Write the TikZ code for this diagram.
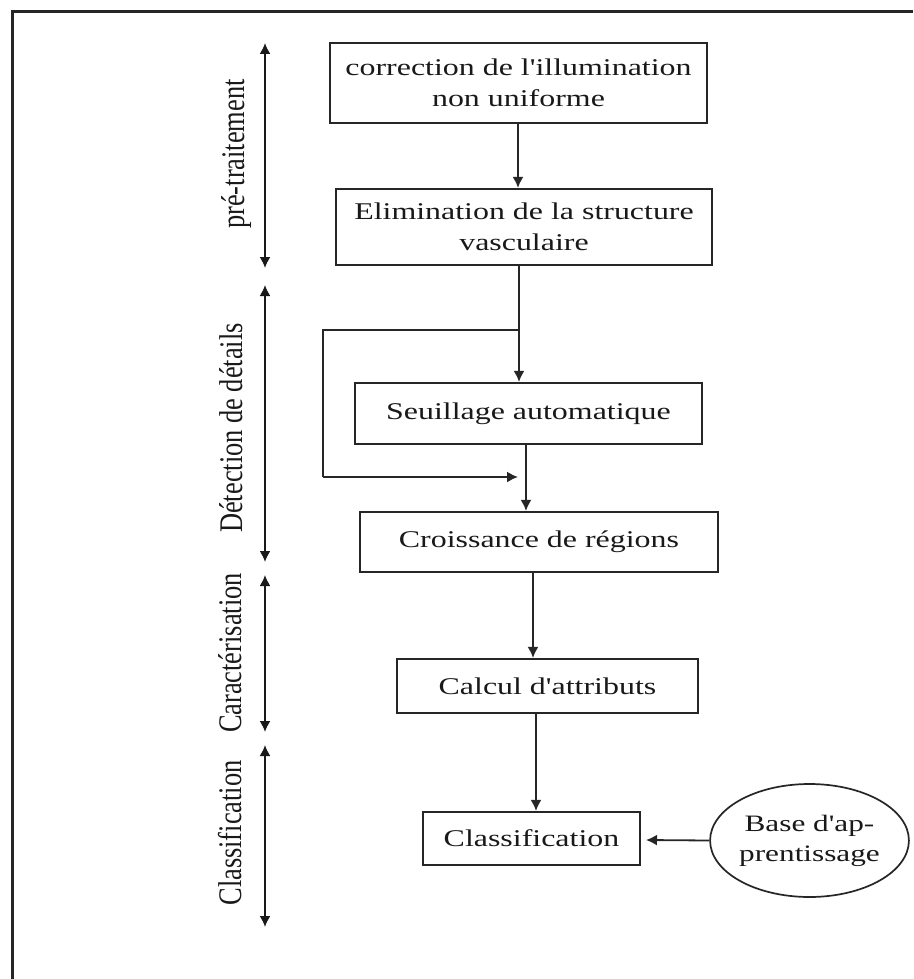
\documentclass[tikz,border=0pt]{standalone}
\usepackage{fontspec}
\setmainfont{Liberation Serif}
\newfontfamily\boxfont[FakeStretch=1.33]{Liberation Serif}
\newfontfamily\labfont[FakeStretch=0.8]{Liberation Serif}
\usetikzlibrary{arrows.meta,shapes.geometric}
\begin{document}
\begin{tikzpicture}[x=1pt,y=-1pt,
  stepbox/.style={draw=black!85, line width=2.2pt, inner sep=0pt, align=center,
    text=black!90, font=\boxfont\fontsize{24}{31}\selectfont},
  ellbox/.style={ellipse, draw=black!85, line width=1.7pt, inner sep=0pt, align=center,
    text=black!90, font=\boxfont\fontsize{23.5}{30}\selectfont},
  arr/.style={draw=black!85, line width=1.8pt, -{Latex[length=11pt,width=11pt]}},
  line/.style={draw=black!85, line width=1.8pt},
  darr/.style={draw=black!90, line width=1.8pt, {Latex[length=11pt,width=11pt]}-{Latex[length=11pt,width=11pt]}},
  lab/.style={rotate=90, anchor=base, inner sep=0pt, text=black!90,
    font=\labfont\fontsize{33}{33}\selectfont}
]
\useasboundingbox (0,0) rectangle (913,979);
\fill[white] (0,0) rectangle (913,979);
% frame
\draw[black!85, line width=3pt] (12,979) -- (12,12) -- (913,12);

% boxes
\node[stepbox, minimum width=377pt, minimum height=80pt] (b1) at (518.5,83)
  {correction de l'illumination\\non uniforme};
\node[stepbox, minimum width=376pt, minimum height=76pt] (b2) at (524,227)
  {Elimination de la structure\\vasculaire};
\node[stepbox, minimum width=347pt, minimum height=61pt] (b3) at (528.5,413.5)
  {Seuillage automatique};
\node[stepbox, minimum width=358pt, minimum height=60pt] (b4) at (539,542)
  {Croissance de régions};
\node[stepbox, minimum width=301pt, minimum height=54pt] (b5) at (547.5,686)
  {Calcul d'attributs};
\node[stepbox, minimum width=217pt, minimum height=53pt] (b6) at (531.5,838.5)
  {Classification};
\node[ellbox, minimum width=189pt, minimum height=113pt] (ell) at (809.5,840.5)
  {Base d'ap-\\prentissage};

% connectors
\coordinate (c1) at (518,0);
\coordinate (br) at (519,330);
\coordinate (lpa) at (323,330);
\coordinate (lpb) at (323,477);
\coordinate (lpc) at (518,477);
\coordinate (c3) at (526,0);
\coordinate (c4) at (533,0);
\coordinate (c5) at (536,0);
\coordinate (t6) at (646,840);

\draw[arr] (c1 |- b1.south) -- (c1 |- b2.north);
\draw[arr] (br |- b2.south) -- (br |- b3.north);
\draw[line] (br) -- (lpa) -- (lpb);
\draw[arr] (lpb) -- (lpc);
\draw[arr] (c3 |- b3.south) -- (c3 |- b4.north);
\draw[arr] (c4 |- b4.south) -- (c4 |- b5.north);
\draw[arr] (c5 |- b5.south) -- (c5 |- b6.north);
\draw[arr] (ell.west) -- (t6);

% phase arrows
\coordinate (p1a) at (265,43);  \coordinate (p1b) at (265,268);
\coordinate (p2a) at (265,285); \coordinate (p2b) at (265,562);
\coordinate (p3a) at (265,575); \coordinate (p3b) at (265,732);
\coordinate (p4a) at (265,745); \coordinate (p4b) at (265,927);
\draw[darr] (p1a) -- (p1b);
\draw[darr] (p2a) -- (p2b);
\draw[darr] (p3a) -- (p3b);
\draw[darr] (p4a) -- (p4b);

\node[lab] (l1) at (244,154) {pré-traitement};
\node[lab] (l2) at (242,428) {Détection de détails};
\node[lab] (l3) at (241,653) {Caractérisation};
\node[lab] (l4) at (241,833) {Classification};
\end{tikzpicture}
\end{document}
